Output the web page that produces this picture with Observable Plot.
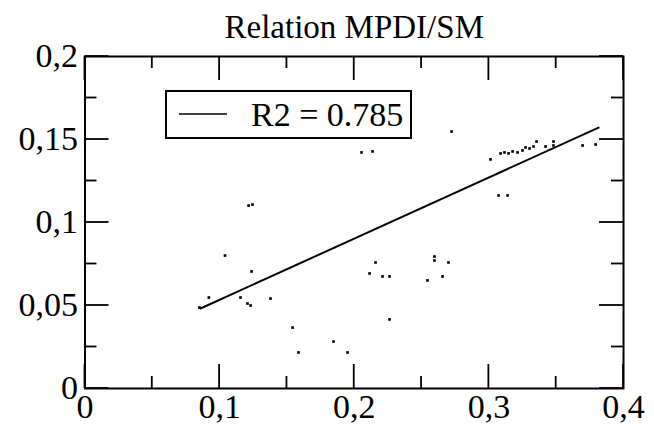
<!DOCTYPE html>
<html>
<head>
<meta charset="utf-8">
<script src="https://cdn.jsdelivr.net/npm/d3@7"></script>
<script src="https://cdn.jsdelivr.net/npm/@observablehq/plot@0.6"></script>
<style>
  html, body { margin: 0; padding: 0; background: #fff; }
  #chart svg { display: block; }
</style>
</head>
<body>
<div id="chart"></div>
<script>
const title = "Relation MPDI/SM";
const legendLabel = "R2 = 0.785";

// scatter values (MPDI on x, SM on y)
const xValues = [0.085, 0.092, 0.104, 0.1215, 0.1244, 0.1237, 0.123, 0.1207, 0.1378, 0.1155,
  0.1542, 0.2262, 0.1846, 0.1586, 0.195, 0.2723, 0.2054, 0.2136, 0.2158, 0.2114,
  0.221, 0.2262, 0.2596, 0.2596, 0.27, 0.2544, 0.2656, 0.3012, 0.3087, 0.3116,
  0.3146, 0.3176, 0.3213, 0.325, 0.3272, 0.3302, 0.3332, 0.3354, 0.3421, 0.348,
  0.348, 0.3696, 0.3793, 0.3072, 0.3139];
const yValues = [0.0488, 0.0548, 0.0801, 0.1102, 0.1108, 0.0705, 0.05, 0.0512, 0.0542, 0.0548,
  0.0367, 0.0416, 0.0283, 0.0217, 0.0217, 0.1548, 0.1422, 0.1428, 0.0759, 0.0693,
  0.0675, 0.0675, 0.0795, 0.0771, 0.0759, 0.0651, 0.0675, 0.138, 0.1416, 0.1422,
  0.1416, 0.1428, 0.1422, 0.1434, 0.1452, 0.1446, 0.1458, 0.1488, 0.1458, 0.1488,
  0.1464, 0.1464, 0.147, 0.1163, 0.1163];

// fitted line end points
const fitX = [0.0858, 0.3815];
const fitY = [0.0482, 0.1572];

// axes
const xDomain = [0, 0.4];
const yDomain = [0, 0.2];
const xMajor = [0, 0.1, 0.2, 0.3, 0.4];
const xMinor = [0.05, 0.15, 0.25, 0.35];
const xTickLabels = ["0", "0,1", "0,2", "0,3", "0,4"];
const yMajor = [0, 0.05, 0.1, 0.15, 0.2];
const yMinor = [0.025, 0.075, 0.125, 0.175];
const yTickLabels = ["0", "0,05", "0,1", "0,15", "0,2"];

(function () {
  const points = xValues.map((x, i) => ({x, y: yValues[i]}));
  const fit = fitX.map((x, i) => ({x, y: fitY[i]}));

  const W = 654, H = 430;
  const font = "'Liberation Serif', 'Times New Roman', serif";
  const majorLen = 24, minorLen = 12;

  const plot = Plot.plot({
    width: W,
    height: H,
    marginLeft: 84.5,
    marginRight: 31,
    marginTop: 56,
    marginBottom: 42,
    style: {fontFamily: font, background: "#fff", color: "#000"},
    x: {domain: xDomain},
    y: {domain: yDomain},
    marks: [
      Plot.line(fit, {x: "x", y: "y", stroke: "#000", strokeWidth: 2}),
      Plot.dot(points, {x: "x", y: "y", symbol: "square", r: 1.5, fill: "#000", stroke: "none"}),
      Plot.frame({stroke: "#000", strokeWidth: 2}),
      Plot.axisX({ticks: xMajor, tickSize: 0, tickPadding: 5, tickFormat: d => xTickLabels[xMajor.indexOf(d)], fontSize: 34, label: null}),
      Plot.axisY({ticks: yMajor, tickSize: 0, tickPadding: 7, tickFormat: d => yTickLabels[yMajor.indexOf(d)], fontSize: 34, label: null}),
      Plot.text([title], {frameAnchor: "top", lineAnchor: "bottom", dy: -19, text: d => d, fontSize: 33, fill: "#000"})
    ]
  });

  const svg = d3.select(plot);

  // inward tick marks on all four sides, placed with Plot's own scales
  try {
    const sx = plot.scale("x"), sy = plot.scale("y");
    const pxLeft = sx.apply(xDomain[0]), pxRight = sx.apply(xDomain[1]);
    const pxBottom = sy.apply(yDomain[0]), pxTop = sy.apply(yDomain[1]);
    const tickG = svg.append("g").attr("stroke", "#000").attr("stroke-width", 1.8);
    const addX = (vals, len) => vals.forEach(v => {
      const px = sx.apply(v);
      tickG.append("line").attr("x1", px).attr("x2", px).attr("y1", pxBottom).attr("y2", pxBottom - len);
      tickG.append("line").attr("x1", px).attr("x2", px).attr("y1", pxTop).attr("y2", pxTop + len);
    });
    const addY = (vals, len) => vals.forEach(v => {
      const py = sy.apply(v);
      tickG.append("line").attr("y1", py).attr("y2", py).attr("x1", pxLeft).attr("x2", pxLeft + len);
      tickG.append("line").attr("y1", py).attr("y2", py).attr("x1", pxRight).attr("x2", pxRight - len);
    });
    addX(xMajor, majorLen); addX(xMinor, minorLen);
    addY(yMajor, majorLen); addY(yMinor, minorLen);
  } catch (e) { console.error(e); }

  // legend box
  const g = svg.append("g");
  g.append("rect").attr("x", 166).attr("y", 91).attr("width", 245).attr("height", 47)
    .attr("fill", "#fff").attr("stroke", "#000").attr("stroke-width", 2);
  g.append("line").attr("x1", 179).attr("x2", 227).attr("y1", 114).attr("y2", 114)
    .attr("stroke", "#000").attr("stroke-width", 1.6);
  g.append("text").attr("x", 251).attr("y", 126)
    .style("font-family", font).style("font-size", "34px").style("text-anchor", "start")
    .attr("fill", "#000").text(legendLabel);

  document.getElementById("chart").appendChild(plot);
})();
</script>
</body>
</html>
